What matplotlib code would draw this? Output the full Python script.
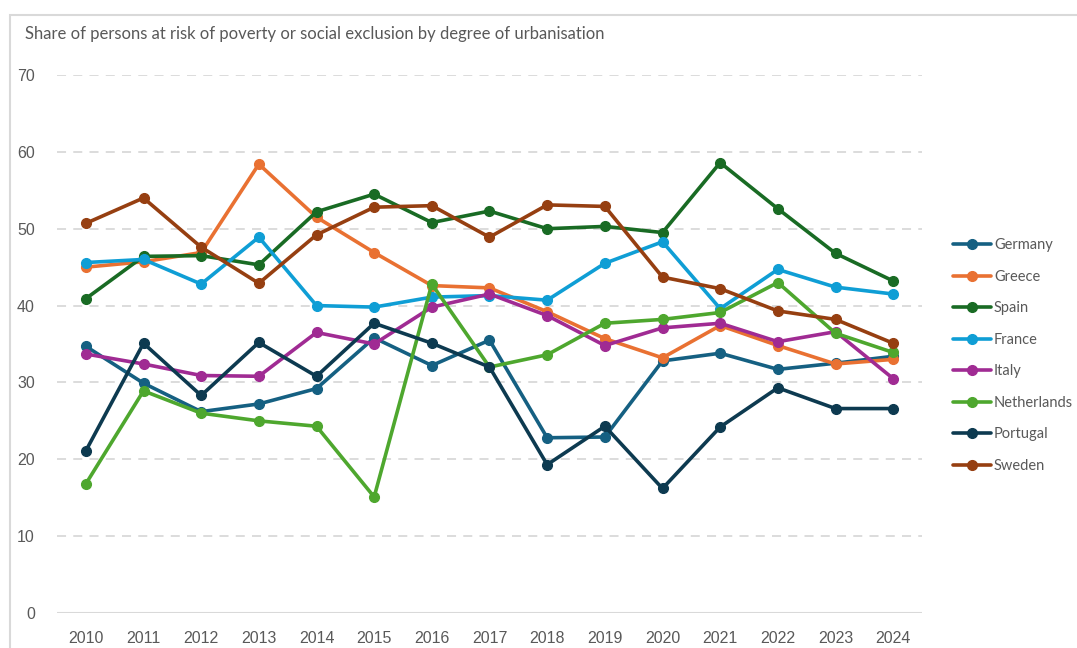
import matplotlib
matplotlib.use("Agg")
import matplotlib.pyplot as plt
from matplotlib.patches import Rectangle
from matplotlib import font_manager

years = ["2010", "2011", "2012", "2013", "2014", "2015", "2016", "2017",
         "2018", "2019", "2020", "2021", "2022", "2023", "2024"]

germany     = [34.7, 29.9, 26.2, 27.2, 29.2, 35.8, 32.2, 35.5, 22.8, 22.9, 32.8, 33.8, 31.7, 32.5, 33.4]
greece      = [45.0, 45.7, 46.9, 58.4, 51.5, 46.9, 42.6, 42.3, 39.2, 35.7, 33.2, 37.4, 34.8, 32.4, 33.0]
spain       = [40.9, 46.4, 46.5, 45.3, 52.2, 54.5, 50.8, 52.3, 50.0, 50.3, 49.5, 58.6, 52.6, 46.8, 43.2]
france      = [45.6, 46.0, 42.8, 48.9, 40.0, 39.8, 41.1, 41.3, 40.7, 45.5, 48.3, 39.6, 44.7, 42.4, 41.5]
italy       = [33.7, 32.4, 30.9, 30.8, 36.5, 35.0, 39.8, 41.5, 38.7, 34.8, 37.1, 37.7, 35.3, 36.6, 30.5]
netherlands = [16.8, 28.9, 26.0, 25.0, 24.3, 15.1, 42.8, 32.0, 33.6, 37.7, 38.2, 39.1, 43.0, 36.4, 33.9]
portugal    = [21.1, 35.1, 28.3, 35.2, 30.8, 37.7, 35.1, 32.0, 19.3, 24.3, 16.2, 24.2, 29.3, 26.6, 26.6]
sweden      = [50.7, 54.0, 47.6, 42.9, 49.2, 52.8, 53.0, 48.9, 53.1, 52.9, 43.7, 42.2, 39.3, 38.2, 35.1]

series = [
    ("Germany", germany, "#156082"),
    ("Greece", greece, "#E97132"),
    ("Spain", spain, "#196B24"),
    ("France", france, "#0F9ED5"),
    ("Italy", italy, "#A02B93"),
    ("Netherlands", netherlands, "#4EA72E"),
    ("Portugal", portugal, "#0D3A50"),
    ("Sweden", sweden, "#963F11"),
]

available = {f.name for f in font_manager.fontManager.ttflist}
narrow = "Liberation Sans Narrow" if "Liberation Sans Narrow" in available else "Liberation Sans"
plt.rcParams["font.family"] = ["Lato", "DejaVu Sans"]

fig = plt.figure(figsize=(10.77, 6.48), dpi=100)
ax = fig.add_axes([57 / 1077, 1 - 613 / 648, 865 / 1077, (613 - 75) / 648])

# light outer frame around the chart
fig.patches.append(Rectangle((10 / 1077, -0.05), 1.2, 1 - 15 / 648 + 0.05,
                             transform=fig.transFigure, fill=False,
                             edgecolor="#D9D9D9", linewidth=1.5, zorder=0))

x = list(range(len(years)))
for name, vals, color in series:
    ax.plot(x, vals, color=color, linewidth=2.6, marker="o", markersize=7,
            label=name, solid_capstyle="round", solid_joinstyle="round")

ax.set_xlim(-0.5, len(years) - 0.5)
ax.set_ylim(0, 70)
ax.set_yticks(range(0, 71, 10))
ax.set_xticks(x)
ax.set_xticklabels(years)

for y in range(10, 71, 10):
    ax.axhline(y, color="#D9D9D9", linewidth=1.3, dashes=(5, 4), zorder=0)
ax.axhline(0, color="#D9D9D9", linewidth=1.5, zorder=0)

for s in ax.spines.values():
    s.set_visible(False)
ax.tick_params(axis="both", length=0, colors="#595959", labelsize=11.5)
for lbl in ax.get_xticklabels() + ax.get_yticklabels():
    lbl.set_fontfamily(narrow)
ax.tick_params(axis="x", pad=13)
ax.tick_params(axis="y", pad=16)

fig.text(25 / 1077, 1 - 34 / 648, "Share of persons at risk of poverty or social exclusion by degree of urbanisation",
         fontsize=12, color="#595959", va="center", ha="left")

leg = fig.legend(loc="upper left", bbox_to_anchor=(940 / 1077, 1 - 225 / 648),
                 frameon=False, handlelength=2.6, handletextpad=0.2,
                 labelspacing=1.2, fontsize=10.5)
for t in leg.get_texts():
    t.set_color("#595959")

fig.savefig("out.png", dpi=100)
